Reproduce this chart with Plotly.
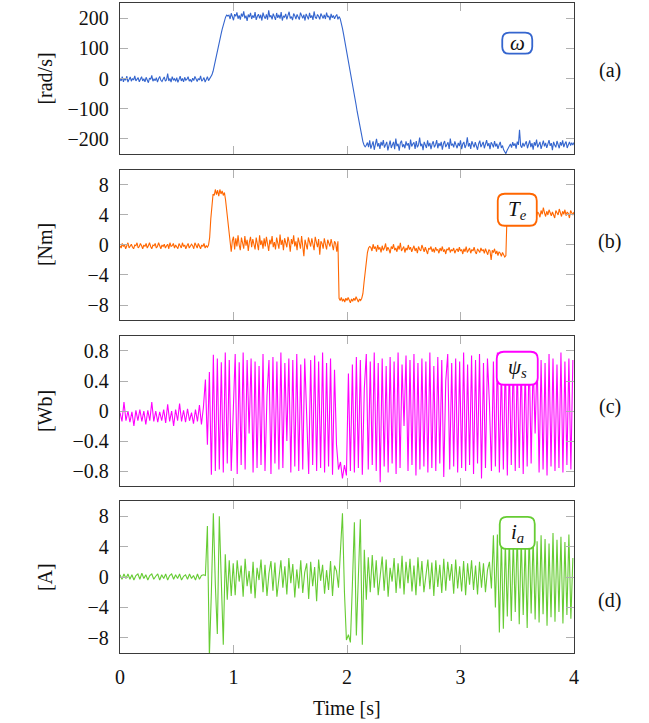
import plotly.graph_objects as go

# ---------------- data ----------------
DT_FAST = 0.01      # sampling step for speed and torque [s]
DT_OSC = 0.0175     # sampling step for flux and current [s]

speed = [
    -2, -8, 6, -11, 0, -6, 8, -12, -3, 5, -9, 0, -5, 9, -8, -2, 3, -11, -3, 6,
    -8, -1, -11, 4, -5, -14, 1, -3, 10, -9, -2, -7, 3, -12, -1, 7, -6, -10, -2, 5,
    -9, -4, 16, -8, 0, -12, 6, -5, -1, -9, 3, -13, -3, 8, -8, 0, -11, 4, -6, -2,
    6, -9, -3, -12, 1, -7, 7, -2, -10, 0, -5, 9, -9, -4, 3, -12, -1, 6, -7, 0,
    3, 12, 24, 40, 56, 73, 92, 110, 128, 146, 163, 180, 194, 203, 210, 207,
    210, 197, 216, 204, 193, 213, 206, 219, 198, 209, 195, 215, 205, 222, 199, 208, 191, 212, 203, 217,
    197, 209, 201, 220, 194, 206, 213, 199, 211, 192, 218, 205, 198, 212, 195, 226, 203, 209, 196, 215,
    206, 194, 217, 201, 211, 198, 220, 192, 207, 203, 214, 196, 209, 221, 199, 205, 193, 215, 208, 197,
    212, 203, 195, 218, 206, 199, 211, 192, 214, 204, 196, 217, 201, 209, 194, 222, 203, 198, 212, 206,
    196, 215, 204, 199, 211, 197, 218, 203, 207, 193, 214, 201, 209, 198, 206, 212, 196, 205,
    198, 185, 166, 146, 126, 106, 86, 64, 42, 21, 1, -19, -41, -64, -87, -110, -132, -154, -175, -194,
    -209, -220, -226, -221,
    -212, -227, -205, -232, -217, -208, -236, -221, -200, -225, -214, -233, -210, -222, -204, -229, -218, -210, -238, -216,
    -206, -230, -221, -210, -234, -199, -224, -216, -239, -213, -206, -227, -218, -231, -208, -222, -214, -236, -202, -225,
    -217, -211, -233, -207, -228, -220, -196, -224, -216, -237, -210, -218, -230, -205, -225, -213, -234, -217, -208, -228,
    -220, -204, -231, -214, -224, -210, -236, -216, -207, -227, -218, -211, -233, -199, -222, -216, -228, -208, -220, -231,
    -213, -224, -205, -234, -217, -210, -230, -220, -195, -225, -214, -233, -208, -218, -228, -211, -222, -236, -216, -206,
    -227, -217, -210, -231, -220, -204, -224, -214, -234, -211, -218, -228, -207, -225, -216, -233, -220, -210, -230, -222,
    -236, -242, -249, -238, -230, -225, -217, -229, -211, -223, -215, -232, -209, -220, -170, -222, -229, -213, -225, -216,
    -208, -231, -218, -205, -227, -214, -236, -211, -222, -202, -228, -216, -210, -233, -218, -206, -225, -213, -230, -220,
    -204, -223, -214, -237, -210, -220, -228, -207, -217, -231, -211, -222, -205, -227, -216, -209, -230, -218, -210, -222,
    -213, -220, -212,
]

torque = [
    -0.1, -0.4, 0.2, -0.2, 0.0, -0.5, -0.1, 0.3, -0.4, -0.1, 0.1, -0.3, -0.5, 0.0, -0.1, 0.3, -0.4, -0.2, 0.2, -0.1,
    -0.5, 0.0, -0.2, 0.2, -0.4, -0.1, 0.3, -0.2, -0.5, 0.0, -0.1, 0.2, -0.4, -0.2, 0.3, -0.1, -0.5, 0.0, -0.2, 0.1,
    -0.4, -0.1, 0.1, -0.5, 0.3, -0.2, -0.1, 0.2, -0.4, 0.0, -0.2, -0.5, 0.2, -0.1, -0.4, 0.3, -0.2, 0.0, -0.5, -0.1,
    0.2, -0.4, -0.2, 0.1, -0.1, -0.5, 0.3, -0.2, -0.4, 0.2, -0.1, -0.5, 0.0, -0.2, 0.2, -0.4, -0.1, -0.3, 0.0,
    1.0, 3.5, 5.5, 6.8, 6.6, 7.4, 6.7, 7.3, 6.5, 7.4, 6.8, 7.2, 6.6, 7.0, 6.0, 4.5, 3.0, 1.8, 0.8, -0.9, 0.6,
    1.1, -0.6, 0.9, -0.2, 1.3, 0.0, -0.7, 1.0, 0.3, -0.5, 1.2, -0.1, 0.7, -0.8, 0.4, 1.1, -0.3, 0.8, 0.1, -0.6,
    1.0, 0.2, -0.7, 1.3, 0.0, 0.6, -0.5, 0.9, -0.2, 1.1, 0.3, -0.8, 0.7, 0.1, 1.2, -0.3, 0.4, -0.6, 1.0, 0.2,
    -0.5, 1.4, 0.0, 0.7, -0.7, 0.9, 0.2, -0.3, 1.1, 0.4, -0.9, 0.8, 0.1, 1.3, -0.2, 0.5, -0.7, 1.0, 0.3, -0.5,
    1.2, 0.0, -1.5, 0.7, 0.2, -0.6, 1.0, 0.4, -0.2, 0.9, 0.1, -0.7, 1.1, 0.3, -0.3, 0.8, -1.3, 0.5, 0.2, -0.5,
    0.9, 0.1, -0.6, 0.7, 0.3, -0.2, 0.8, 0.0, -0.7, 0.5, 0.2, -0.9, 0.5,
    -7.1, -7.4, -7.0, -7.5, -7.2, -7.6, -7.1, -7.4, -7.0, -7.3, -7.7, -7.2, -7.5, -7.1, -7.4, -6.9, -7.3, -7.6, -7.2, -7.4,
    -7.1, -6.5, -5.0, -3.5, -2.2, -1.0, -0.4, -0.2,
    -0.3, -0.8, 0.1, -0.5, -0.2, -0.9, 0.0, -0.6, -0.3, -1.0, -0.1, -0.7, -0.4, 0.2, -0.8, -0.3, -0.6, -1.1, -0.2, -0.5,
    0.1, -0.7, -0.4, -0.9, -0.1, -0.6, 0.3, -0.8, -0.5, -0.2, -1.0, -0.4, -0.7, 0.0, -0.6, -0.3, -0.9, -0.5, -0.1, -0.8,
    -0.4, -1.1, -0.2, -0.6, -0.8, 0.0, -0.5, -0.9, -0.3, -0.7, -1.2, -0.4, -0.6, -0.2, -0.9, -0.5, -1.0, -0.3, -0.7, -0.6,
    -1.1, -0.4, -0.8, -0.2, -0.9, -0.6, -1.2, -0.5, -0.7, -0.3, -1.0, -0.6, -0.8, -0.4, -1.1, -0.7, -0.5, -0.9, -0.3, -0.8,
    -0.6, -1.2, -0.5, -0.9, -0.2, -1.0, -0.7, -0.4, -1.1, -0.6, -0.8, -0.3, -0.9, -1.2, -0.5, -0.7, -1.0, -0.4, -0.8, -0.6,
    -1.1, -0.5, -0.9, -1.3, -0.6, -0.8, -2.0, -0.7, -1.0, -0.5, -1.2, -0.8, -1.4, -0.9, -1.1, -1.5, -1.0, -1.3, -1.6,
    -1.4,
    4.1, 4.5, 3.8, 4.6, 4.0, 4.3, 3.6, 4.7, 4.2, 3.9, 4.8, 4.1, 4.4, 3.7, 4.6, 4.0, 4.9, 4.2, 3.8, 4.5,
    4.1, 3.5, 4.6, 4.3, 4.0, 4.8, 3.9, 4.4, 4.2, 3.7, 4.6, 4.1, 5.0, 4.3, 3.8, 4.5, 4.0, 4.7, 4.2, 3.9,
    4.4, 4.1, 3.6, 4.6, 4.3, 4.0, 4.8, 4.2, 3.8, 4.5, 4.1, 4.7, 3.9, 4.4, 4.2, 3.6, 4.6, 4.3, 4.0, 4.4,
]

flux = [
    -0.02, -0.14, 0.12, -0.13, 0.0, -0.15, -0.01, -0.2, 0.01, -0.13, 0.02, -0.14, 0.0, -0.18, 0.01, -0.13, 0.12, -0.14, 0.0, -0.15,
    -0.01, -0.13, 0.02, -0.16, 0.09, -0.14, 0.0, -0.2, 0.02, -0.13, 0.1, -0.14, 0.01, -0.15, 0.03, -0.13, -0.02, -0.17, 0.02, -0.14,
    0.08, -0.18, 0.05,
    0.42, -0.45, 0.52, -0.85, 0.75, -0.8,
    0.7, -0.78, 0.65, -0.82, 0.78, -0.7, 0.68, -0.8, 0.1, 0.76, -0.84, 0.65, -0.72, 0.78, -0.78, 0.68, -0.3, 0.7, -0.82, 0.66,
    -0.76, 0.6, -0.72, 0.76, -0.8, 0.2, 0.68, -0.84, 0.72, -0.7, 0.66, -0.78, 0.78, -0.76, 0.64, -0.4, 0.7, -0.82, 0.68, -0.74,
    0.76, -0.8, 0.62, -0.78, 0.7, 0.0, -0.84, 0.68, -0.72, 0.74, -0.8, 0.66, -0.76, 0.78, -0.82, 0.64, -0.74, 0.7, -0.85, 0.55,
    -0.45, -0.78, -0.68, -0.9, -0.72, -0.86, 0.5, -0.8,
    0.62, -0.82, 0.72, -0.76, 0.68, -0.85, 0.3, 0.76, -0.78, 0.66, -0.72, 0.78, -0.8, 0.64, -0.95, 0.7, -0.74, 0.6, -0.82, 0.72,
    -0.7, 0.66, -0.84, 0.78, -0.76, 0.62, -0.2, 0.74, -0.8, 0.68, -0.72, 0.76, -0.86, 0.64, -0.78, 0.7, -0.74, 0.66, -0.82, 0.78,
    -0.76, 0.6, -0.8, 0.72, -0.7, 0.68, -0.88, 0.4, 0.76, -0.78, 0.64, -0.74, 0.7, -0.82, 0.66, -0.76, 0.78, -0.8, 0.62, -0.72,
    0.74, -0.84, 0.68, -0.7, 0.76, -0.9, 0.64, -0.76, 0.7, 0.1, -0.8, 0.66, -0.74, 0.78, -0.82, 0.62, -0.78, 0.72, -0.86, 0.68,
    -0.72, 0.76, -0.8, 0.64, -0.76, 0.7, -0.84, 0.6, -0.74, 0.78, -0.7, 0.66, -0.3, 0.72, -0.82, 0.68, -0.78, 0.64, -0.86, 0.76,
    -0.74, 0.7, -0.8, 0.62, -0.76, 0.78, -0.82, 0.66, -0.72, 0.7, -0.78, 0.68,
]

current = [
    0.3, -0.3, 0.4, -0.2, 0.4, -0.3, 0.3, -0.4, 0.2, 0.4, -0.3, 0.5, -0.2, 0.3, -0.4, 0.2, 0.4, -0.3, 0.1, 0.4,
    -0.4, 0.3, -0.2, 0.4, -0.4, 0.2, 0.4, -0.3, 0.3, -0.2, 0.4, -0.4, 0.1, 0.3, -0.3, 0.4, -0.2, 0.2, -0.4, 0.4,
    -0.3, 0.2, 0.3,
    0.2, 6.7, -10.5, -2.0, 8.4, -1.0, -7.5, 8.0, -2.0, -8.9, 3.0, -3.0, 2.2, -2.5,
    1.8, -2.4, 2.2, -0.6, 1.5, -2.6, 2.4, -1.2, 0.8, -2.2, 2.0, -2.8, 1.2, -0.4, 2.3, -2.0, 1.6, -2.5, 0.5, 2.1,
    -1.8, 1.9, -2.6, 0.3, 2.2, -1.4, 1.4, -2.3, 2.5, -0.8, 1.7, -2.7, 1.0, -1.5, 2.2, -2.1, 0.6, 1.8, -2.9, 2.0,
    -1.2, 1.3, -3.2, 2.3, -0.5, 1.6, -2.2, 0.9, -1.7, 2.1, -2.5, 1.5, 0.8,
    -1.4, 4.0, 8.4, -2.0, -8.3, -7.6, -8.6, -1.0, 7.2, -7.7, 1.5, 7.6, -8.9, 3.6, -3.0,
    2.6, -2.0, 2.9, -1.4, 2.2, -2.4, 0.6, 2.7, -1.8, 2.3, -2.6, 1.2, -0.6, 2.5, -2.1, 1.8, -1.5, 2.8, -2.3, 2.0,
    -0.8, 2.4, -1.9, 1.5, -2.4, 2.6, -1.2, 2.1, -2.0, 0.4, 2.3, -1.6, 1.9, -2.5, 2.2, -1.3, 1.6, -2.1, 2.4, -1.8,
    2.0, -0.5, 1.7, -2.2, 2.3, -1.5, 1.4, -1.9, 2.1, -2.4, 1.8, -1.0, 2.2, -1.7, 1.5, -2.3, 2.0, -1.4, 1.8, -2.0,
    0.9, 2.0, -1.5,
    5.5, -4.0, 5.6, -7.3, 5.0, -6.8, 4.6, -5.2, 5.4, -5.8, 4.8, -4.6, 5.9, -6.2, 5.1, -5.0, 4.5, -6.7, 5.7, -4.8,
    5.2, -5.6, 4.7, -6.0, 5.5, -4.9, 5.0, -6.4, 4.4, -5.3, 5.8, -5.9, 4.9, -4.6, 5.3, -6.1, 4.6, -5.0, 5.6, -5.5,
    2.5,
]

panel_titles = ["[rad/s]", "[Nm]", "[Wb]", "[A]"]
panel_tags = ["(a)", "(b)", "(c)", "(d)"]
signal_labels = ["<i>ω</i>", "<i>T</i><sub><i>e</i></sub>",
                 "<i>ψ</i><sub><i>s</i></sub>", "<i>i</i><sub><i>a</i></sub>"]
y_ticks = [[-200, -100, 0, 100, 200], [-8, -4, 0, 4, 8],
           [-0.8, -0.4, 0, 0.4, 0.8], [-8, -4, 0, 4, 8]]
y_ranges = [[-250, 250], [-10, 10], [-1, 1], [-10, 10]]
x_ticks = [0, 1, 2, 3, 4]

# ---------------- styling ----------------
colors = ["rgb(52,101,206)", "rgb(255,102,0)", "rgb(255,0,255)", "rgb(102,204,51)"]
SERIF = "Liberation Serif, Times New Roman, Times, serif"
domains = [[0.7677, 1.0], [0.5123, 0.7431], [0.2569, 0.4877], [0.0, 0.2338]]
label_y = [117, 4.7, 0.57, 5.8]           # box centres (data units)
label_x = 3.5
box_half = [(15, 10.5), (19.5, 16), (20.5, 16.5), (17.5, 16)]
tag_y = [0.8954, 0.6338, 0.3785, 0.0815]

t_fast = [round(i * DT_FAST, 4) for i in range(len(speed))]
t_osc = [round(i * DT_OSC, 4) for i in range(len(flux))]
series = [(t_fast, speed), (t_fast, torque), (t_osc, flux), (t_osc, current)]

fig = go.Figure()
for k, (tx, vy) in enumerate(series):
    sfx = "" if k == 0 else str(k + 1)
    fig.add_trace(go.Scatter(x=tx, y=vy, mode="lines",
                             line=dict(color=colors[k], width=1.1),
                             xaxis="x" + sfx, yaxis="y" + sfx,
                             showlegend=False, hoverinfo="skip"))

axis_common = dict(showline=True, linecolor="#3a3a3a", linewidth=1.3, mirror="ticks",
                   ticks="inside", ticklen=8, tickwidth=1.4, tickcolor="#b0b0b0",
                   showgrid=False, zeroline=False,
                   tickfont=dict(family=SERIF, size=20, color="#111"))

layout = dict(width=649, height=723, margin=dict(l=120, r=75, t=3, b=70),
              paper_bgcolor="white", plot_bgcolor="white", showlegend=False,
              font=dict(family=SERIF, size=20, color="#111"))

annotations = []
shapes = []
for k in range(4):
    sfx = "" if k == 0 else str(k + 1)
    layout["xaxis" + sfx] = dict(axis_common, domain=[0, 1], range=[0, 4],
                                 anchor="y" + sfx, tickvals=x_ticks,
                                 showticklabels=(k == 3), ticklabelstandoff=6)
    layout["yaxis" + sfx] = dict(axis_common, domain=domains[k], range=y_ranges[k],
                                 anchor="x" + sfx, tickvals=y_ticks[k],
                                 ticklabelstandoff=6)
    annotations.append(dict(xref="paper", yref="paper", x=-0.165,
                            y=sum(domains[k]) / 2, text=panel_titles[k],
                            textangle=-90, showarrow=False, xanchor="center",
                            yanchor="middle",
                            font=dict(family=SERIF, size=20, color="#111")))
    annotations.append(dict(xref="paper", yref="paper", x=1.079, y=tag_y[k],
                            text=panel_tags[k], showarrow=False,
                            xanchor="center", yanchor="middle",
                            font=dict(family=SERIF, size=20, color="#111")))
    w, h = box_half[k]
    r = 7
    path = (f"M {-w + r},{-h} L {w - r},{-h} Q {w},{-h} {w},{-h + r} "
            f"L {w},{h - r} Q {w},{h} {w - r},{h} L {-w + r},{h} "
            f"Q {-w},{h} {-w},{h - r} L {-w},{-h + r} Q {-w},{-h} {-w + r},{-h} Z")
    shapes.append(dict(type="path", xref="x" + sfx, yref="y" + sfx,
                       xsizemode="pixel", ysizemode="pixel",
                       xanchor=label_x, yanchor=label_y[k], path=path,
                       line=dict(color=colors[k], width=1.8),
                       fillcolor="white", layer="above"))
    annotations.append(dict(xref="x" + sfx, yref="y" + sfx, x=label_x, y=label_y[k],
                            text=signal_labels[k], showarrow=False,
                            xanchor="center", yanchor="middle",
                            font=dict(family=SERIF, size=21, color="#111")))

annotations.append(dict(xref="paper", yref="paper", x=0.5, y=-0.0846,
                        text="Time [s]", showarrow=False, xanchor="center",
                        yanchor="middle",
                        font=dict(family=SERIF, size=20, color="#111")))

layout["annotations"] = annotations
layout["shapes"] = shapes
fig.update_layout(**layout)
fig.write_html("out.html", config={"displayModeBar": False},
               post_script="document.body.style.margin='0px';document.body.style.padding='0px';")
